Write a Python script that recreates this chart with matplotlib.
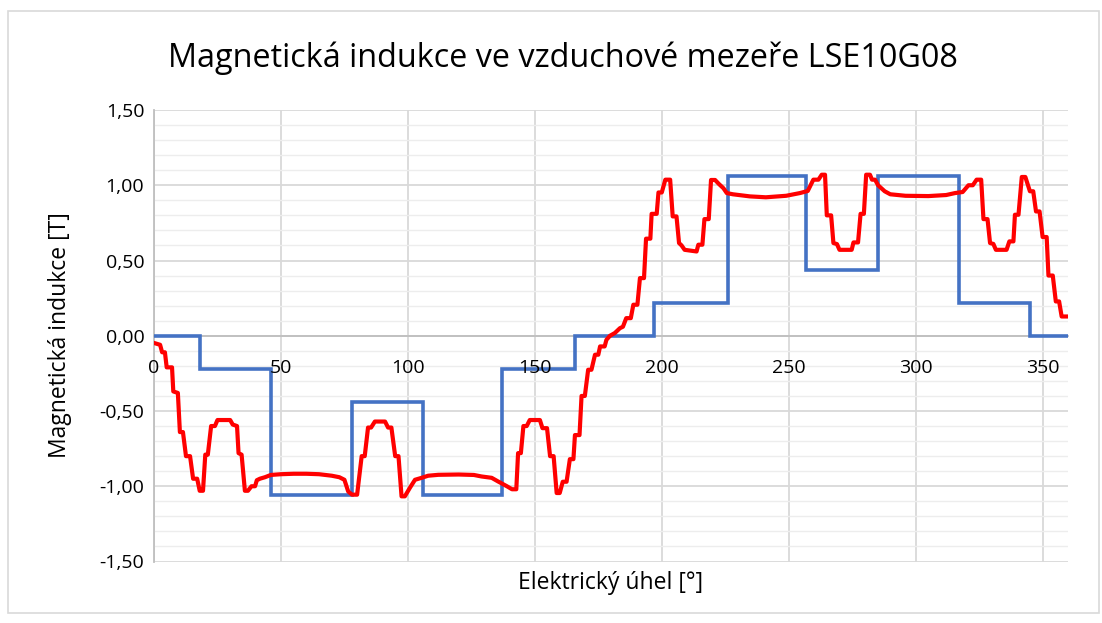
import matplotlib
matplotlib.use("Agg")
import matplotlib.pyplot as plt
from matplotlib.patches import Rectangle
from matplotlib.ticker import MultipleLocator, FuncFormatter
from matplotlib.transforms import offset_copy

plt.rcParams['font.family'] = ['Open Sans', 'DejaVu Sans']

# ---- data ----
title = "Magnetická indukce ve vzduchové mezeře LSE10G08"
xlabel = "Elektrický úhel [°]"
ylabel = "Magnetická indukce [T]"

# blue step series (step edges and levels)
step_edges = [0, 18, 46, 78, 106, 137, 166, 197, 226, 257, 285, 317, 345, 360]
step_levels = [0.00, -0.22, -1.06, -0.44, -1.06, -0.22, 0.00, 0.22, 1.06, 0.44, 1.06, 0.22, 0.00]

# red measured curve
red_theta = [0.4, 2.4, 3.2, 4.3, 5.0, 7.1, 7.6, 9.4, 10.2, 11.4, 12.6, 14.2, 15.4, 17.0, 18.0,
             19.3, 20.2, 21.2, 22.5, 24.0, 25.0, 30.0, 31.0, 32.7, 33.3, 34.5, 35.8, 37.0, 38.4,
             39.8, 40.5, 41.7, 43.7, 46, 50, 55, 60, 65, 70, 73, 75, 76.5, 78, 80, 81.8, 83,
             84.3, 85.5, 87, 91, 92.2, 93.5, 95, 96.3, 97.5, 98.8, 100.8, 102.8, 105.4, 108,
             112, 120, 126, 129, 133, 135.5, 139, 141, 142.7, 143.4, 144.5, 145.5, 146.8, 148,
             152, 153, 154.8, 156, 157.4, 158.6, 159.8, 161, 162.5, 163.8, 165.2, 165.8, 167.6,
             168.4, 169.7, 171, 172.3, 173.7, 175, 175.7, 177.5, 178.2, 179.6,
             181.5, 183.5, 184.7, 186, 187.8, 188.8, 190.4, 191.4, 193, 193.8, 195.5, 196, 198,
             198.7, 200, 201.4, 203.3, 204.3, 205.8, 206.8, 207.8, 209, 213.7, 214.4, 216,
             216.8, 218.5, 219.4, 221, 222.4, 224.3, 225.6, 228, 234.7, 241, 249, 254.4, 257.5,
             259.7, 261.7, 263, 264.3, 265, 266.7, 267.6, 269, 270, 274.8, 275.5, 277.3, 278.3,
             279.6, 280.5, 282, 282.8, 284, 285.2, 287.8, 290, 296, 305, 312, 315.5, 318.5,
             320.8, 322.5, 324, 325.8, 326.7, 328.3, 329.3, 330.6, 331.6, 335.8, 336.9, 338.5,
             339.1, 340.5, 341.8, 343.2, 345, 346.3, 347.4, 348.8, 350, 351.6, 352.3, 354,
             355.2, 356.5, 357.5, 359.5]
red_B = [-0.05, -0.06, -0.11, -0.11, -0.21, -0.21, -0.37, -0.38, -0.64, -0.64, -0.80, -0.80,
         -0.95, -0.95, -1.03, -1.03, -0.79, -0.79, -0.60, -0.60, -0.56, -0.56, -0.59, -0.60,
         -0.78, -0.79, -1.03, -1.03, -1.00, -1.00, -0.96, -0.95, -0.94, -0.925, -0.92, -0.917,
         -0.917, -0.92, -0.93, -0.94, -0.957, -1.035, -1.056, -1.056, -0.80, -0.80, -0.61,
         -0.61, -0.57, -0.57, -0.61, -0.61, -0.80, -0.80, -1.067, -1.067, -1.01, -0.957,
         -0.944, -0.93, -0.924, -0.922, -0.925, -0.935, -0.944, -0.968, -1.0, -1.02, -1.02,
         -0.78, -0.78, -0.60, -0.60, -0.56, -0.56, -0.614, -0.614, -0.80, -0.80, -1.045,
         -1.045, -0.97, -0.97, -0.82, -0.82, -0.66, -0.66, -0.40, -0.40, -0.226, -0.226,
         -0.126, -0.126, -0.071, -0.071, -0.027, 0.0,
         0.018, 0.05, 0.06, 0.117, 0.117, 0.206, 0.206, 0.383, 0.383, 0.645, 0.645, 0.81,
         0.81, 0.952, 0.952, 1.037, 1.037, 0.793, 0.793, 0.616, 0.60, 0.571, 0.56, 0.605,
         0.605, 0.775, 0.775, 1.035, 1.035, 1.01, 0.98, 0.948, 0.94, 0.926, 0.92, 0.93,
         0.948, 0.962, 1.037, 1.037, 1.07, 1.07, 0.80, 0.80, 0.616, 0.609, 0.571, 0.571,
         0.62, 0.62, 0.81, 0.81, 1.07, 1.07, 1.037, 1.037, 1.0, 0.96, 0.94, 0.93, 0.928,
         0.935, 0.948, 0.955, 1.0, 1.0, 1.037, 1.037, 0.775, 0.775, 0.616, 0.61, 0.571,
         0.571, 0.627, 0.627, 0.804, 0.804, 1.055, 1.055, 0.96, 0.96, 0.826, 0.826, 0.656,
         0.656, 0.40, 0.40, 0.228, 0.228, 0.128, 0.128]

xticks = [0, 50, 100, 150, 200, 250, 300, 350]

# ---- figure ----
W, H = 1102, 623
fig = plt.figure(figsize=(W / 100, H / 100), dpi=100)
fig.patches.append(Rectangle((8 / W, 1 - 613 / H), (1099 - 8) / W, (613 - 11) / H,
                             transform=fig.transFigure, fill=False, edgecolor='#D9D9D9', lw=1.2))

left, right, top, bottom = 154, 1068, 110, 561.5
ax = fig.add_axes([left / W, 1 - bottom / H, (right - left) / W, (bottom - top) / H])

ax.set_xlim(0, 360)
ax.set_ylim(-1.5, 1.5)

# grid
ax.yaxis.set_major_locator(MultipleLocator(0.5))
ax.yaxis.set_minor_locator(MultipleLocator(0.1))
ax.set_xticks(xticks)
ax.grid(which='major', axis='both', color='#D9D9D9', lw=1.3, zorder=0)
ax.grid(which='minor', axis='y', color='#EDEDED', lw=1.0, zorder=0)

for s in ['top', 'right']:
    ax.spines[s].set_visible(False)
ax.spines['left'].set_color('#BFBFBF')
ax.spines['left'].set_linewidth(1.3)
ax.spines['bottom'].set_position(('data', 0))
ax.spines['bottom'].set_color('#BFBFBF')
ax.spines['bottom'].set_linewidth(1.3)

ax.tick_params(which='both', length=0)
ax.tick_params(axis='y', labelsize=14, pad=7, colors='#000000')
ax.tick_params(axis='x', labelbottom=False)
ax.yaxis.set_major_formatter(FuncFormatter(lambda v, p: f"{v:.2f}".replace('.', ',').replace('-0,00', '0,00')))

# data
sx, sy = [], []
for i, lv in enumerate(step_levels):
    sx += [step_edges[i], step_edges[i + 1]]
    sy += [lv, lv]
ax.plot(sx, sy, color='#4472C4', lw=2.6, zorder=3, solid_joinstyle='miter')
ax.plot(red_theta, red_B, color='#FF0000', lw=3.0, zorder=4)

# x tick labels drawn on top of the lines (as in the reference)
lab_tr = offset_copy(ax.transData, fig=fig, x=0, y=-32, units='dots')
for t in xticks:
    ax.text(t, 0, str(t), transform=lab_tr, ha='center', va='center', fontsize=14,
            zorder=6, clip_on=False)

fig.text(0.511, 1 - 58 / H, title, ha='center', va='center', fontsize=23.3)
fig.text(611 / W, 1 - 583 / H, xlabel, ha='center', va='center', fontsize=16.5)
fig.text(60 / W, 1 - 335 / H, ylabel, ha='center', va='center', rotation=90, fontsize=16.5)

fig.savefig("out.png", dpi=100)
